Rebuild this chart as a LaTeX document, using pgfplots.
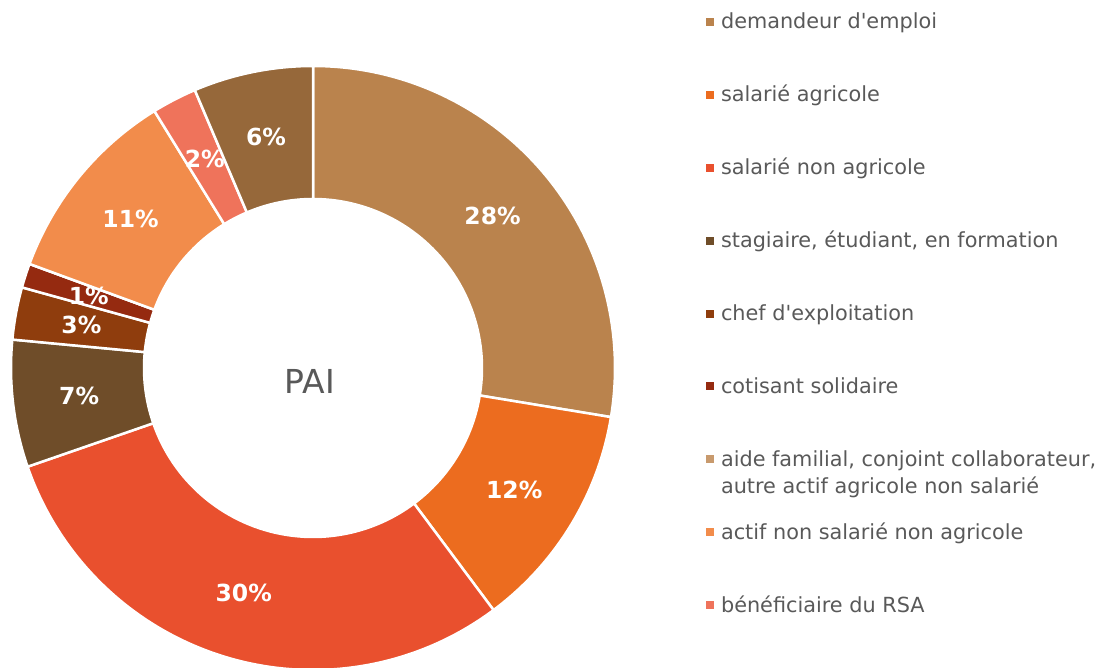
\documentclass[border=0pt]{standalone}
\usepackage{pgfplots}
\pgfplotsset{compat=1.18}
\usepackage{pgfplotstable}
\usepackage{fontspec}
\setmainfont{DejaVu Sans}

\definecolor{cA}{HTML}{BA834D}
\definecolor{cB}{HTML}{EC6C1F}
\definecolor{cC}{HTML}{E9502E}
\definecolor{cD}{HTML}{6F4D29}
\definecolor{cE}{HTML}{8F3D0D}
\definecolor{cF}{HTML}{952A10}
\definecolor{cG}{HTML}{C89A6D}
\definecolor{cH}{HTML}{F28C4B}
\definecolor{cI}{HTML}{EF735B}
\definecolor{cJ}{HTML}{96683A}
\definecolor{txt}{HTML}{595959}

% share of each category (%), in clockwise order from the top
\pgfplotstableread{
val  col
27.6 cA
12.2 cB
29.9 cC
6.8  cD
2.8  cE
1.3  cF
0.0  cG
10.6 cH
2.4  cI
6.4  cJ
}\slices

\begin{document}
\begin{tikzpicture}
\begin{axis}[
    x=1pt, y=1pt, xmin=0, xmax=1103, ymin=0, ymax=668,
    scale only axis, hide axis, clip=false,
    legend style={at={(0.6401,0.9873)}, anchor=north west, draw=none, fill=none,
                  inner sep=0pt, outer sep=0pt, row sep=45.9pt, column sep=7pt,
                  font=\fontsize{20.8}{27}\selectfont, text=txt,
                  nodes={inner sep=0pt, text height=20.5pt, text depth=6.5pt},
                  cells={anchor=west}},
    legend image code/.code={\fill[#1, draw=none] (0pt,-4pt) rectangle (8pt,4pt);},
  ]
  \pgfplotstablegetrowsof{\slices}
  \pgfmathtruncatemacro\nrows{\pgfplotsretval-1}
  \def\cum{0}
  \pgfplotsforeachungrouped \i in {0,...,\nrows}{%
    \pgfplotstablegetelem{\i}{val}\of\slices \let\v\pgfplotsretval
    \pgfplotstablegetelem{\i}{col}\of\slices \let\c\pgfplotsretval
    \pgfmathsetmacro\a{90-3.6*\cum}
    \pgfmathsetmacro\b{90-3.6*(\cum+\v)}
    \pgfmathsetmacro\xo{313+302*cos(\a)}
    \pgfmathsetmacro\yo{300+302*sin(\a)}
    \pgfmathsetmacro\xin{313+169*cos(\b)}
    \pgfmathsetmacro\yin{300+169*sin(\b)}
    \edef\temp{\noexpand\fill[\c, draw=white, line width=2.5pt, line join=round]
      (axis cs:\xo,\yo) arc[start angle=\a, end angle=\b, radius=302pt]
      -- (axis cs:\xin,\yin) arc[start angle=\b, end angle=\a, radius=169pt] -- cycle;}
    \temp
    \pgfmathsetmacro\cum{\cum+\v}
  }
  % percentage labels
  \def\cum{0}
  \pgfplotsforeachungrouped \i in {0,...,\nrows}{%
    \pgfplotstablegetelem{\i}{val}\of\slices \let\v\pgfplotsretval
    \pgfmathsetmacro\m{90-3.6*(\cum+\v/2)}
    \pgfmathsetmacro\xm{313+235.5*cos(\m)}
    \pgfmathsetmacro\ym{300+235.5*sin(\m)}
    \pgfmathtruncatemacro\lab{round(\v)}
    \ifnum\lab>0
      \edef\temp{\noexpand\node[text=white, font=\noexpand\fontsize{23.5}{28}\noexpand\selectfont\noexpand\bfseries]
        at (axis cs:\xm,\ym) {\lab\noexpand\%};}
      \temp
    \fi
    \pgfmathsetmacro\cum{\cum+\v}
  }
  \node[text=txt, font=\fontsize{33}{40}\selectfont] at (axis cs:310,287) {PAI};

  \addlegendimage{fill=cA}\addlegendentry{demandeur d\textquotesingle emploi}
  \addlegendimage{fill=cB}\addlegendentry{salarié agricole}
  \addlegendimage{fill=cC}\addlegendentry{salarié non agricole}
  \addlegendimage{fill=cD}\addlegendentry{stagiaire, étudiant, en formation}
  \addlegendimage{fill=cE}\addlegendentry{chef d\textquotesingle exploitation}
  \addlegendimage{fill=cF}\addlegendentry{cotisant solidaire}
  \addlegendimage{fill=cG}\addlegendentry{\parbox[t]{400pt}{aide familial, conjoint collaborateur,\\autre actif agricole non salarié}}
  \addlegendimage{fill=cH}\addlegendentry{actif non salarié non agricole}
  \addlegendimage{fill=cI}\addlegendentry{bénéficiaire du RSA}
\end{axis}
\pgfresetboundingbox
\useasboundingbox (0,0) rectangle (1103pt,668pt);
\end{tikzpicture}
\end{document}
